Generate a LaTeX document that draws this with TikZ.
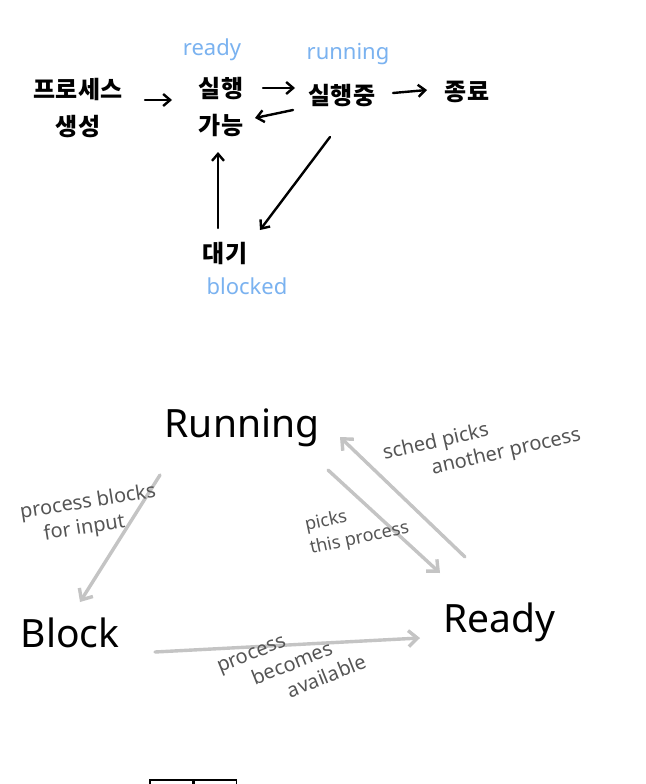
\documentclass[tikz,border=0pt]{standalone}
\usepackage{fontspec}
\setmainfont{Noto Sans}
\newfontfamily\krfont{Noto Sans CJK KR}
\usepackage{xcolor}
\usepackage{tikz}
\usetikzlibrary{arrows.meta, positioning, calc}

\definecolor{tagblue}{HTML}{7AB2F0}
\definecolor{lightline}{HTML}{C4C4C4}
\definecolor{notegray}{HTML}{555555}

\begin{document}
\begin{tikzpicture}[x=1pt, y=-1pt,
    kr/.style={font=\krfont\bfseries\fontsize{24}{37}\selectfont, align=center, inner sep=2pt},
    tag/.style={text=tagblue, font=\bfseries\fontsize{22}{24}\selectfont, inner sep=0pt},
    arr/.style={-{Straight Barb[length=7pt, width=12pt]}, line width=2.4pt, line cap=round},
    big/.style={font=\fontsize{39}{42}\selectfont, inner sep=2pt},
    flow/.style={-{Straight Barb[length=9pt, width=16pt]}, lightline, line width=3.4pt, line cap=round},
    note/.style={text=notegray, font=\fontsize{20}{25}\selectfont, align=left, inner sep=0pt}]
      \clip (0,0) rectangle (645,784);
      \fill[white] (0,0) rectangle (645,784);

      % korean state chart
      \node[kr] (create) at (78,108) {프로세스\\생성};
      \node[kr] (ready) at (221,107) {실행\\가능};
      \node[kr] (running) at (342,96) {실행중};
      \node[kr] (exit) at (467,92) {종료};
      \node[kr] (waiting) at (225,253) {대기};

      \node[tag] (readytag) at (212,50) {ready};
      \node[tag] (runtag) at (348,54) {running};
      \node[tag] (blocktag) at (247,286) {blocked};

      \draw[arr] ($(create)+(67,-8)$) -- ($(ready)+(-49,-7)$);
      \draw[arr] ($(ready)+(42,-19)$) -- ($(running)+(-47,-8)$);
      \draw[arr] ($(running)+(-49,14)$) -- ($(ready)+(34,11)$);
      \draw[arr] ($(running)+(51,-3)$) -- ($(exit)+(-40,-2)$);
      \draw[arr] ($(waiting)+(-7,-25)$) -- ($(ready)+(-3,45)$);
      \draw[arr] ($(running)+(-12,41)$) -- ($(waiting)+(35,-23)$);

      % english state chart
      \node[big] (Running) at (242,428) {Running};
      \node[big] (Block) at (70,633) {Block};
      \node[big] (Ready) at (499,622) {Ready};

      \draw[flow] ($(Running)+(-82,47)$) -- ($(Block)+(10,-31)$);
      \draw[flow] ($(Running)+(86,42)$) -- ($(Ready)+(-59,-49)$);
      \draw[flow] ($(Ready)+(-34,-65)$) -- ($(Running)+(98,9)$);
      \draw[flow] ($(Block)+(85,19)$) -- ($(Ready)+(-79,16)$);

      \node[note, rotate=9] (blocklbl) at (90,515) {process blocks\\\hspace*{1em}for input};
      \node[note, rotate=12, font=\fontsize{18}{24}\selectfont] (pickslbl) at (357,527) {picks\\this process};
      \node[note, rotate=13] (schedlbl) at (482,445) {sched picks\\\hspace*{2.2em}another process};
      \node[note, rotate=22] (availlbl) at (292,665) {process\\\hspace*{1.4em}becomes\\\hspace*{2.8em}available};

      % boxes cut off at the bottom
      \node[draw, line width=1.2pt, minimum width=43pt, minimum height=20pt] (boxa) at (171.5,790) {};
      \node[draw, line width=1.2pt, minimum width=42pt, minimum height=20pt, right=0pt of boxa] (boxb) {};
    \end{tikzpicture}
\end{document}
